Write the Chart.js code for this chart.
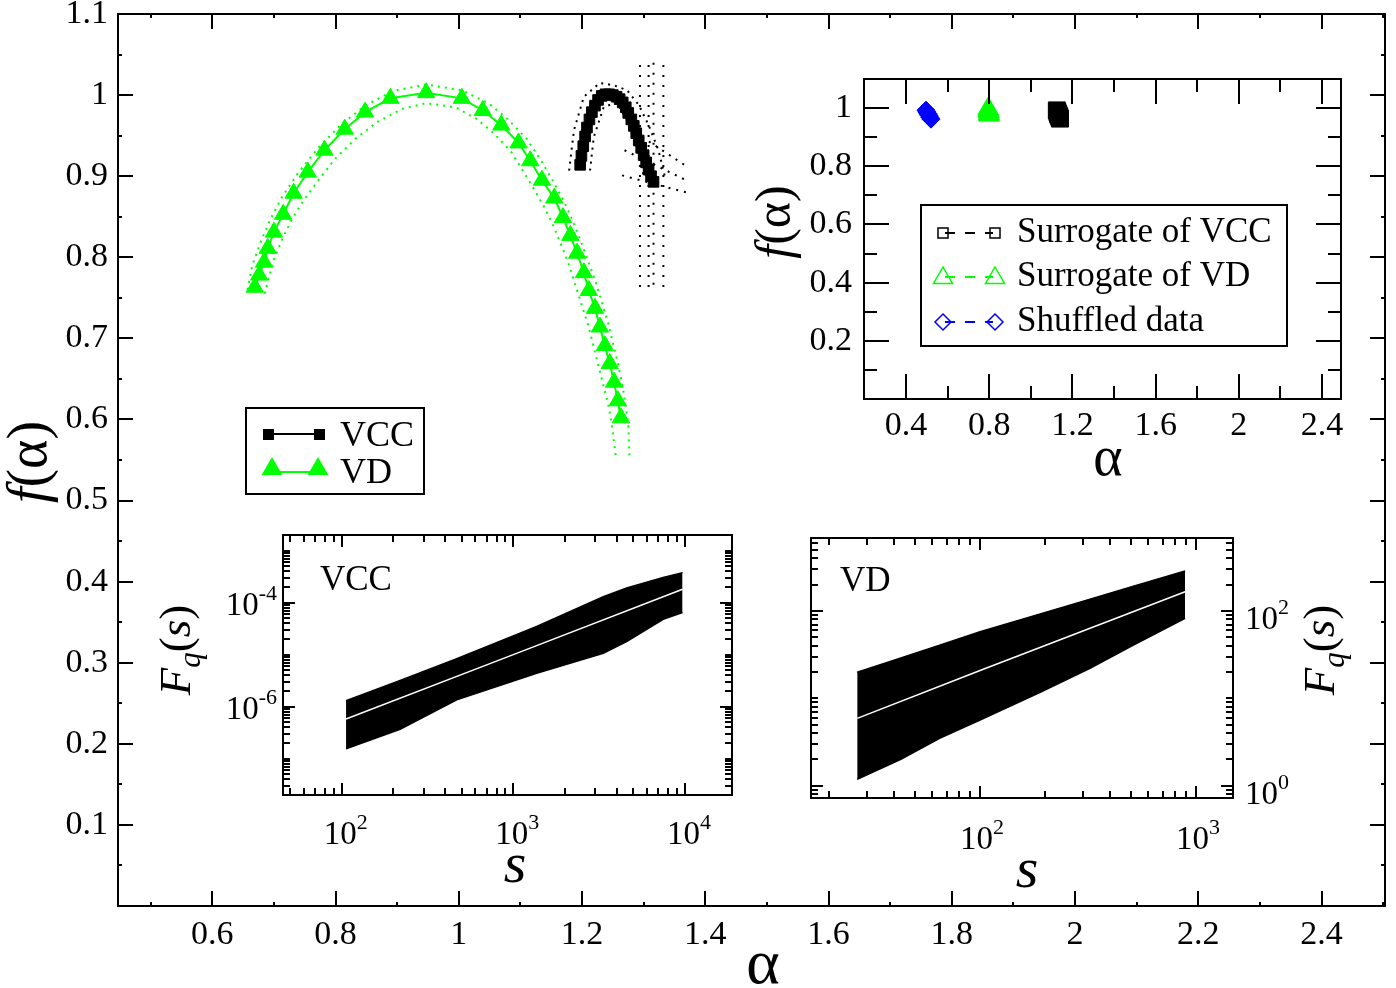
<!DOCTYPE html>
<html>
<head>
<meta charset="utf-8">
<script src="https://cdn.jsdelivr.net/npm/chart.js@4/dist/chart.umd.min.js"></script>
<style>
html, body { margin: 0; padding: 0; background: #fff; }
#wrap { position: relative; width: 1396px; height: 988px; }
canvas { position: absolute; }
</style>
</head>
<body>
<div id="wrap">
<canvas id="main-chart" width="1396" height="988" style="left:0;top:0"></canvas>
<canvas id="inset-alpha" width="620" height="420" style="left:740px;top:60px"></canvas>
<canvas id="inset-vcc" width="620" height="380" style="left:140px;top:520px"></canvas>
<canvas id="inset-vd" width="600" height="380" style="left:790px;top:520px"></canvas>
</div>
<script>
// ---- main panel: f(alpha) spectra ----
const vdAlpha = [0.669, 0.676, 0.684, 0.690, 0.700, 0.715, 0.732, 0.755, 0.782, 0.815, 0.848, 0.889, 0.947,
	1.005, 1.039, 1.069, 1.097, 1.116, 1.135, 1.155, 1.169, 1.181, 1.192, 1.203, 1.211, 1.221, 1.229, 1.237,
	1.245, 1.252, 1.258, 1.263];
const vdF = [0.763, 0.778, 0.794, 0.811, 0.831, 0.853, 0.879, 0.905, 0.932, 0.958, 0.979, 0.996, 1.003,
	0.996, 0.981, 0.963, 0.941, 0.919, 0.895, 0.873, 0.849, 0.827, 0.805, 0.781, 0.759, 0.737, 0.714, 0.691,
	0.669, 0.646, 0.623, 0.602];

const vdOuterAlpha = [0.657, 0.665, 0.678, 0.693, 0.713, 0.740, 0.772, 0.808, 0.848, 0.893, 0.947, 1.005, 1.048,
	1.080, 1.110, 1.132, 1.152, 1.170, 1.185, 1.198, 1.210, 1.222, 1.232, 1.242, 1.250, 1.258, 1.265, 1.270,
	1.275, 1.277];
const vdOuterF = [0.760, 0.790, 0.818, 0.845, 0.874, 0.905, 0.935, 0.963, 0.987, 1.005, 1.013, 1.006, 0.990,
	0.970, 0.946, 0.921, 0.895, 0.870, 0.845, 0.820, 0.795, 0.770, 0.745, 0.720, 0.695, 0.670, 0.645, 0.620,
	0.595, 0.553];
const vdInnerAlpha = [0.685, 0.692, 0.700, 0.712, 0.728, 0.748, 0.772, 0.800, 0.832, 0.868, 0.908, 0.947, 0.995,
	1.030, 1.058, 1.085, 1.103, 1.122, 1.140, 1.155, 1.168, 1.180, 1.190, 1.200, 1.210, 1.218, 1.226, 1.234,
	1.242, 1.248, 1.255];
const vdInnerF = [0.755, 0.775, 0.797, 0.820, 0.845, 0.870, 0.895, 0.922, 0.946, 0.967, 0.983, 0.990, 0.985,
	0.970, 0.952, 0.930, 0.908, 0.884, 0.860, 0.836, 0.812, 0.788, 0.764, 0.740, 0.716, 0.692, 0.668, 0.644,
	0.620, 0.596, 0.553];

const vccAlpha = [1.197, 1.199, 1.202, 1.205, 1.208, 1.212, 1.216, 1.221, 1.226, 1.232, 1.238, 1.244, 1.250,
	1.256, 1.261, 1.266, 1.271, 1.275, 1.280, 1.284, 1.288, 1.292, 1.296, 1.300, 1.304, 1.308, 1.312, 1.316];
const vccF = [0.914, 0.925, 0.937, 0.949, 0.960, 0.970, 0.979, 0.987, 0.994, 0.999, 1.001, 1.001, 1.000,
	0.998, 0.995, 0.991, 0.985, 0.978, 0.970, 0.962, 0.953, 0.944, 0.935, 0.926, 0.917, 0.908, 0.900, 0.893];

const vccOuterAlpha = [1.179, 1.187, 1.203, 1.229, 1.252, 1.273, 1.292, 1.308, 1.324, 1.334];
const vccOuterF = [0.907, 0.957, 0.998, 1.015, 1.012, 1.006, 0.988, 0.963, 0.932, 0.901];
const vccInnerAlpha = [1.213, 1.219, 1.235, 1.256, 1.273, 1.289, 1.300];
const vccInnerF = [0.907, 0.948, 0.985, 0.991, 0.969, 0.936, 0.901];

// vertical dotted error bars and the fan of dotted lines right of the VCC curve
const vccBarAlpha = [1.294, 1.308, 1.316, 1.332];
const vccBarTop = [1.037, 1.037, 1.040, 1.037];
const vccBarBottom = [0.757, 0.760, 0.757, 0.757];
const vccFanStart = [[1.269, 0.932], [1.265, 0.901], [1.276, 0.959]];
const vccFanEnd = [[1.369, 0.895], [1.369, 0.880], [1.366, 0.914]];

const mainAlphaTicks = [0.6, 0.8, 1, 1.2, 1.4, 1.6, 1.8, 2, 2.2, 2.4];
const mainFTicks = [0.1, 0.2, 0.3, 0.4, 0.5, 0.6, 0.7, 0.8, 0.9, 1, 1.1];

// ---- top right inset: surrogates ----
const surVccAlpha = [1.125, 1.128, 1.131, 1.134, 1.137, 1.140];
const surVccF = [0.992, 0.986, 0.980, 0.975, 0.970, 0.964];
const surVdAlpha = [0.795, 0.796, 0.797, 0.798, 0.799];
const surVdF = [0.997, 0.992, 0.987, 0.981, 0.976];
const shuffledAlpha = [0.496, 0.500, 0.505, 0.510, 0.515, 0.520];
const shuffledF = [0.993, 0.987, 0.981, 0.975, 0.968, 0.962];

const insetAlphaTicks = [0.4, 0.8, 1.2, 1.6, 2, 2.4];
const insetFTicks = [0.2, 0.4, 0.6, 0.8, 1];

// ---- bottom left inset: VCC fluctuation functions ----
const vccS = [106, 219, 357, 468, 1368, 3342, 4571, 7464, 9683];
const vccFqTop = [1.30e-6, 3.2e-6, 5.9e-6, 8.4e-6, 3.47e-5, 1.30e-4, 1.91e-4, 3.04e-4, 3.78e-4];
const vccFqBottom = [1.54e-7, 3.67e-7, 8.5e-7, 1.35e-6, 4.39e-6, 1.06e-5, 1.78e-5, 4.79e-5, 6.46e-5];
const vccMidS = [106, 1000, 9683];
const vccFqMid = [5.8e-7, 1.0e-5, 1.81e-4];
const vccSExps = [2, 3, 4];
const vccFqExps = [-6, -4];

// ---- bottom right inset: VD fluctuation functions ----
const vdS = [27, 43, 65, 100, 190, 323, 513, 890];
const vdFqTop = [19.9, 29.0, 40.7, 57.9, 92.7, 136.8, 191.9, 287];
const vdFqBottom = [1.18, 2.0, 3.48, 5.64, 11.7, 22.1, 40.8, 82.4];
const vdMidS = [27, 100, 890];
const vdFqMid = [5.9, 20.8, 166];
const vdSExps = [2, 3];
const vdFqExps = [0, 2];

const SERIF = '"Liberation Serif", "DejaVu Serif", serif';
const GREEN = '#00ff00';
const BLUE = '#0000ff';

const pts = (xs, ys) => xs.map((x, i) => ({ x: x, y: ys[i] }));

function range(from, to, step) {
	const out = [];
	for (let v = from; v <= to + 1e-9; v += step) out.push(Math.round(v * 1000) / 1000);
	return out;
}

function logMinors(lo, hi, majorExps) {
	const out = [];
	for (let e = Math.floor(Math.log10(lo)); e <= Math.ceil(Math.log10(hi)); e++) {
		for (let k = 1; k <= 9; k++) {
			const v = k * Math.pow(10, e);
			if (v > lo && v < hi && !(k === 1 && majorExps.includes(e))) out.push(v);
		}
	}
	return out;
}

// text made of runs with different fonts (italics, sub/superscripts)
function drawRuns(ctx, runs, x, y, align, rot) {
	ctx.save();
	ctx.translate(x, y);
	ctx.rotate(rot || 0);
	ctx.textAlign = 'left';
	ctx.textBaseline = 'alphabetic';
	ctx.fillStyle = '#000';
	let w = 0;
	runs.forEach(r => { ctx.font = r.font; r.w = ctx.measureText(r.text).width; w += r.w; });
	let cx = align === 'left' ? 0 : align === 'right' ? -w : -w / 2;
	runs.forEach(r => { ctx.font = r.font; ctx.fillText(r.text, cx, r.dy || 0); cx += r.w; });
	ctx.restore();
}

function power(exp) {
	return [{ text: '10', font: '33px ' + SERIF }, { text: String(exp), font: '22px ' + SERIF, dy: -15 }];
}

function fqTitle() {
	return [
		{ text: 'F', font: 'italic 45px ' + SERIF },
		{ text: 'q', font: 'italic 31px ' + SERIF, dy: 10 },
		{ text: '(', font: '45px ' + SERIF },
		{ text: 's', font: 'italic 45px ' + SERIF },
		{ text: ')', font: '45px ' + SERIF },
	];
}

// closed frame with inward ticks on all four sides
function boxAxes(cfg) {
	return {
		id: 'boxAxes',
		beforeDraw(chart) {
			const { ctx, chartArea: a } = chart;
			ctx.save();
			ctx.fillStyle = '#fff';
			ctx.fillRect(a.left, a.top, a.right - a.left, a.bottom - a.top);
			ctx.restore();
		},
		afterDraw(chart) {
			const { ctx, chartArea: a } = chart;
			const xs = chart.scales.x, ys = chart.scales.y;
			ctx.save();
			ctx.strokeStyle = '#000';
			ctx.lineWidth = 2;
			ctx.beginPath();
			const tickX = (vals, len) => vals.forEach(v => {
				const p = Math.round(xs.getPixelForValue(v));
				if (p < a.left + 2 || p > a.right - 2) return;
				ctx.moveTo(p, a.bottom); ctx.lineTo(p, a.bottom - len);
				ctx.moveTo(p, a.top); ctx.lineTo(p, a.top + len);
			});
			const tickY = (vals, len) => vals.forEach(v => {
				const p = Math.round(ys.getPixelForValue(v));
				if (p < a.top + 2 || p > a.bottom - 2) return;
				ctx.moveTo(a.left, p); ctx.lineTo(a.left + len, p);
				ctx.moveTo(a.right, p); ctx.lineTo(a.right - len, p);
			});
			tickX(cfg.xMajor, cfg.majorLen);
			tickX(cfg.xMinor, cfg.minorLen);
			tickY(cfg.yMajor, cfg.majorLen);
			tickY(cfg.yMinor, cfg.minorLen);
			ctx.stroke();
			ctx.strokeRect(a.left, a.top, a.right - a.left, a.bottom - a.top);
			ctx.restore();
			ctx.save();
			cfg.labels(chart);
			ctx.restore();
		},
	};
}

function dotted(data, color, dash) {
	return {
		data: data, showLine: true, borderColor: color, borderWidth: 2, borderDash: dash || [2, 5],
		pointRadius: 0, order: 3,
	};
}

function baseOptions(padding, xScale, yScale) {
	return {
		responsive: false,
		animation: false,
		events: [],
		layout: { padding: padding },
		scales: {
			x: Object.assign({ display: false, bounds: 'data' }, xScale),
			y: Object.assign({ display: false, bounds: 'data' }, yScale),
		},
		plugins: { legend: { display: false }, tooltip: { enabled: false } },
	};
}

function triangle(ctx, x, y, r) {
	ctx.beginPath();
	ctx.moveTo(x, y - r);
	ctx.lineTo(x + r * 0.866, y + r / 2);
	ctx.lineTo(x - r * 0.866, y + r / 2);
	ctx.closePath();
}

function diamond(ctx, x, y, r) {
	ctx.beginPath();
	ctx.moveTo(x, y - r); ctx.lineTo(x + r, y); ctx.lineTo(x, y + r); ctx.lineTo(x - r, y);
	ctx.closePath();
}

// ---- main chart ----
const main_datasets = [
	{
		data: pts(vdAlpha, vdF), showLine: true, borderColor: GREEN, borderWidth: 2,
		pointStyle: 'triangle', pointRadius: 10, pointBackgroundColor: GREEN, pointBorderColor: GREEN,
		pointBorderWidth: 1, order: 1,
	},
	{
		data: pts(vccAlpha, vccF), showLine: true, borderColor: '#000', borderWidth: 2,
		pointStyle: 'rect', pointRadius: 7.5, pointBackgroundColor: '#000', pointBorderColor: '#000',
		pointBorderWidth: 1, order: 1,
	},
	dotted(pts(vdOuterAlpha, vdOuterF), GREEN),
	dotted(pts(vdInnerAlpha, vdInnerF), GREEN),
	dotted(pts(vccOuterAlpha, vccOuterF), '#000'),
	dotted(pts(vccInnerAlpha, vccInnerF), '#000'),
];
vccBarAlpha.forEach((a, i) => {
	main_datasets.push(dotted([{ x: a, y: vccBarTop[i] }, { x: a, y: vccBarBottom[i] }], '#000', [2, 8]));
});
vccFanStart.forEach((s, i) => {
	main_datasets.push(dotted([{ x: s[0], y: s[1] }, { x: vccFanEnd[i][0], y: vccFanEnd[i][1] }], '#000', [2, 6]));
});

const main_legend = {
	id: 'mainLegend',
	afterDraw(chart) {
		const ctx = chart.ctx;
		ctx.save();
		ctx.fillStyle = '#fff';
		ctx.fillRect(246, 408, 178, 86);
		ctx.strokeStyle = '#000';
		ctx.lineWidth = 2;
		ctx.strokeRect(246, 408, 178, 86);
		ctx.beginPath(); ctx.moveTo(268, 434); ctx.lineTo(320, 434); ctx.stroke();
		ctx.fillStyle = '#000';
		ctx.fillRect(263, 429, 11, 11);
		ctx.fillRect(314, 429, 11, 11);
		ctx.strokeStyle = GREEN;
		ctx.beginPath(); ctx.moveTo(272, 472); ctx.lineTo(318, 472); ctx.stroke();
		ctx.fillStyle = GREEN;
		triangle(ctx, 272, 469, 12); ctx.fill();
		triangle(ctx, 318, 469, 12); ctx.fill();
		ctx.fillStyle = '#000';
		ctx.font = '36px ' + SERIF;
		ctx.textBaseline = 'alphabetic';
		ctx.fillText('VCC', 340, 446);
		ctx.fillText('VD', 340, 483);
		ctx.restore();
	},
};

new Chart(document.getElementById('main-chart').getContext('2d'), {
	type: 'scatter',
	data: { datasets: main_datasets },
	options: baseOptions({ left: 118, top: 14, right: 3, bottom: 82 },
		{ type: 'linear', min: 0.447, max: 2.503 }, { type: 'linear', min: 0, max: 1.1 }),
	plugins: [boxAxes({
		xMajor: mainAlphaTicks, xMinor: range(0.5, 2.5, 0.2),
		yMajor: mainFTicks, yMinor: range(0.05, 1.05, 0.1),
		majorLen: 15, minorLen: 4,
		labels(chart) {
			const { ctx, chartArea: a } = chart;
			const xs = chart.scales.x, ys = chart.scales.y;
			ctx.fillStyle = '#000';
			ctx.font = '34px ' + SERIF;
			ctx.textBaseline = 'middle';
			ctx.textAlign = 'center';
			mainAlphaTicks.forEach(v => ctx.fillText(String(v), xs.getPixelForValue(v), a.bottom + 29));
			ctx.textAlign = 'right';
			mainFTicks.forEach(v => ctx.fillText(String(v), a.left - 10, ys.getPixelForValue(v)));
			ctx.textAlign = 'center';
			ctx.font = '64px ' + SERIF;
			ctx.fillText('α', 763, 966);
			drawRuns(ctx, [{ text: 'f', font: 'italic 56px ' + SERIF }, { text: '(α)', font: '56px ' + SERIF }],
				46, 462, 'center', -Math.PI / 2);
		},
	}), main_legend],
});

// ---- inset: surrogate and shuffled spectra ----
const alpha_legend = {
	id: 'alphaLegend',
	afterDraw(chart) {
		const ctx = chart.ctx;
		ctx.save();
		ctx.strokeStyle = '#000';
		ctx.lineWidth = 2;
		ctx.strokeRect(181, 145, 366, 141);
		const rows = [
			{ y: 173, color: '#000', text: 'Surrogate of VCC', mark: (x, y) => ctx.strokeRect(x - 5, y - 5, 10, 10) },
			{ y: 217, color: GREEN, text: 'Surrogate of VD', mark: (x, y) => { triangle(ctx, x, y + 1, 11); ctx.stroke(); } },
			{ y: 262, color: BLUE, text: 'Shuffled data', mark: (x, y) => { diamond(ctx, x, y, 8); ctx.stroke(); } },
		];
		rows.forEach(r => {
			ctx.strokeStyle = r.color;
			ctx.lineWidth = 2;
			ctx.setLineDash([10, 10]);
			ctx.beginPath(); ctx.moveTo(205, r.y); ctx.lineTo(253, r.y); ctx.stroke();
			ctx.setLineDash([]);
			ctx.lineWidth = 1.5;
			r.mark(203, r.y);
			r.mark(255, r.y);
			ctx.fillStyle = '#000';
			ctx.font = '35px ' + SERIF;
			ctx.textBaseline = 'middle';
			ctx.fillText(r.text, 277, r.y);
		});
		ctx.restore();
	},
};

new Chart(document.getElementById('inset-alpha').getContext('2d'), {
	type: 'scatter',
	data: {
		datasets: [
			{
				data: pts(surVccAlpha, surVccF), showLine: true, borderColor: '#000', borderDash: [8, 6],
				pointStyle: 'rect', pointRadius: 12, pointBackgroundColor: '#000', pointBorderColor: '#000',
			},
			{
				data: pts(surVdAlpha, surVdF), showLine: true, borderColor: GREEN, borderDash: [8, 6],
				pointStyle: 'triangle', pointRadius: 12, pointBackgroundColor: GREEN, pointBorderColor: GREEN,
			},
			{
				data: pts(shuffledAlpha, shuffledF), showLine: true, borderColor: BLUE, borderDash: [8, 6],
				pointStyle: 'rectRot', pointRadius: 9, pointBackgroundColor: BLUE, pointBorderColor: BLUE,
			},
		],
	},
	options: baseOptions({ left: 124, top: 19, right: 19, bottom: 81 },
		{ type: 'linear', min: 0.198, max: 2.491 }, { type: 'linear', min: 0, max: 1.1 }),
	plugins: [boxAxes({
		xMajor: insetAlphaTicks, xMinor: [0.6, 1.0, 1.4, 1.8, 2.2],
		yMajor: insetFTicks, yMinor: [0.1, 0.3, 0.5, 0.7, 0.9],
		majorLen: 25, minorLen: 13,
		labels(chart) {
			const { ctx, chartArea: a } = chart;
			const xs = chart.scales.x, ys = chart.scales.y;
			ctx.fillStyle = '#000';
			ctx.font = '34px ' + SERIF;
			ctx.textBaseline = 'middle';
			ctx.textAlign = 'center';
			insetAlphaTicks.forEach(v => ctx.fillText(String(v), xs.getPixelForValue(v), a.bottom + 27));
			ctx.textAlign = 'right';
			insetFTicks.forEach(v => ctx.fillText(String(v), a.left - 12, ys.getPixelForValue(v)));
			ctx.textAlign = 'center';
			ctx.font = '56px ' + SERIF;
			ctx.fillText('α', 368, 400);
			drawRuns(ctx, [{ text: 'f', font: 'italic 50px ' + SERIF }, { text: '(α)', font: '50px ' + SERIF }],
				50, 162, 'center', -Math.PI / 2);
		},
	}), alpha_legend],
});

// ---- inset: VCC fluctuation functions ----
function bandDatasets(s, bottom, top, midS, mid) {
	return [
		{ data: pts(s, bottom), showLine: true, borderColor: '#000', borderWidth: 1.5, pointRadius: 0, fill: false, order: 2 },
		{ data: pts(s, top), showLine: true, borderColor: '#000', borderWidth: 1.5, pointRadius: 0, fill: '-1', backgroundColor: '#000', order: 2 },
		{ data: pts(midS, mid), showLine: true, borderColor: '#fff', borderWidth: 1.5, pointRadius: 0, order: 1 },
	];
}

new Chart(document.getElementById('inset-vcc').getContext('2d'), {
	type: 'scatter',
	data: { datasets: bandDatasets(vccS, vccFqBottom, vccFqTop, vccMidS, vccFqMid) },
	options: baseOptions({ left: 143, top: 15, right: 28, bottom: 105 },
		{ type: 'logarithmic', min: 45.5, max: 18800 }, { type: 'logarithmic', min: 2.0e-8, max: 2.0e-3 }),
	plugins: [boxAxes({
		xMajor: vccSExps.map(e => Math.pow(10, e)), xMinor: logMinors(45.5, 18800, vccSExps),
		yMajor: vccFqExps.map(e => Math.pow(10, e)), yMinor: logMinors(2.0e-8, 2.0e-3, vccFqExps),
		majorLen: 12, minorLen: 7,
		labels(chart) {
			const { ctx, chartArea: a } = chart;
			const xs = chart.scales.x, ys = chart.scales.y;
			vccSExps.forEach(e => drawRuns(ctx, power(e), xs.getPixelForValue(Math.pow(10, e)) + 4, a.bottom + 49, 'center'));
			vccFqExps.forEach(e => drawRuns(ctx, power(e), a.left - 6, ys.getPixelForValue(Math.pow(10, e)) + 12, 'right'));
			drawRuns(ctx, [{ text: 's', font: 'italic 58px ' + SERIF }], 375, 362, 'center');
			drawRuns(ctx, fqTitle(), 50, 130, 'center', -Math.PI / 2);
			drawRuns(ctx, [{ text: 'VCC', font: '35px ' + SERIF }], 180, 70, 'left');
		},
	})],
});

// ---- inset: VD fluctuation functions ----
new Chart(document.getElementById('inset-vd').getContext('2d'), {
	type: 'scatter',
	data: { datasets: bandDatasets(vdS, vdFqBottom, vdFqTop, vdMidS, vdFqMid) },
	options: baseOptions({ left: 21, top: 18, right: 157, bottom: 102 },
		{ type: 'logarithmic', min: 16.5, max: 1483 }, { type: 'logarithmic', min: 0.723, max: 685 }),
	plugins: [boxAxes({
		xMajor: vdSExps.map(e => Math.pow(10, e)), xMinor: logMinors(16.5, 1483, vdSExps),
		yMajor: vdFqExps.map(e => Math.pow(10, e)), yMinor: logMinors(0.723, 685, vdFqExps),
		majorLen: 12, minorLen: 7,
		labels(chart) {
			const { ctx, chartArea: a } = chart;
			const xs = chart.scales.x, ys = chart.scales.y;
			vdSExps.forEach(e => drawRuns(ctx, power(e), xs.getPixelForValue(Math.pow(10, e)) + 2, a.bottom + 51, 'center'));
			vdFqExps.forEach(e => drawRuns(ctx, power(e), a.right + 12, ys.getPixelForValue(Math.pow(10, e)) + 18, 'left'));
			drawRuns(ctx, [{ text: 's', font: 'italic 58px ' + SERIF }], 237, 367, 'center');
			drawRuns(ctx, fqTitle(), 544, 130, 'center', -Math.PI / 2);
			drawRuns(ctx, [{ text: 'VD', font: '35px ' + SERIF }], 50, 71, 'left');
		},
	})],
});
</script>
</body>
</html>
